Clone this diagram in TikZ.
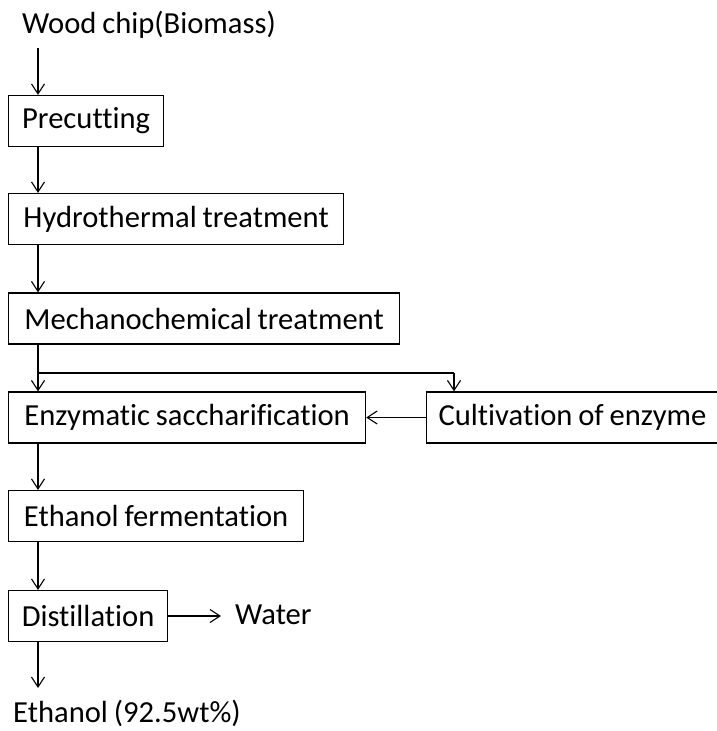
\documentclass[tikz,border=0pt]{standalone}
\usepackage{fontspec}
\setmainfont{Carlito}[Ligatures={NoCommon}, WordSpace=0.85]
\usetikzlibrary{arrows.meta}
\begin{document}
\begin{tikzpicture}[x=1pt,y=-1pt,
  every node/.style={font=\fontsize{30.6}{36}\selectfont, text=black},
  stepbox/.style={draw=black, line width=1.2pt, anchor=west, inner xsep=12pt, inner ysep=0pt, minimum height=51pt},
  plain/.style={anchor=west, inner sep=0pt},
  arr/.style={line width=1.2pt, -{Straight Barb[length=10pt,width=13pt,line width=1.1pt]}},
  thick line/.style={line width=2.2pt}
]
\useasboundingbox (0,0) rectangle (717,731);
\node[plain] (wood) at (22,25) {Wood chip(Biomass)};
\node[stepbox, minimum width=155pt] (pre) at (8,121) {Precutting};
\node[stepbox, minimum width=335pt] (hyd) at (8,219) {Hydrothermal treatment};
\node[stepbox, minimum width=391pt] (mech) at (8,318.5) {Mechanochemical treatment};
\node[stepbox, minimum width=357pt] (enz) at (8,417.5) {Enzymatic saccharification};
\node[stepbox, minimum width=290pt] (cult) at (426,417.5) {Cultivation of enzyme};
\node[stepbox, minimum width=295pt] (eth) at (8,516) {Ethanol fermentation};
\node[stepbox, minimum width=159pt] (dist) at (8,616) {Distillation};
\node[plain] (water) at (235,615) {Water};
\node[plain] (ethout) at (13,713) {Ethanol (92.5wt\%)};

\coordinate (w1) at (38,48);
\coordinate (split) at (38,373);
\coordinate (corner) at (454,373);
\coordinate (wend) at (221,616);
\coordinate (eend) at (38,688);

\draw[arr] (w1) -- ([xshift=30pt]pre.north west);
\draw[arr] ([xshift=30pt]pre.south west) -- ([xshift=30pt]hyd.north west);
\draw[arr] ([xshift=30pt]hyd.south west) -- ([xshift=30pt]mech.north west);
\draw[arr] ([xshift=30pt]mech.south west) -- ([xshift=30pt]enz.north west);
\draw[thick line] (split) -- (corner);
\draw[arr] (corner) -- (corner |- cult.north);
\draw[arr] (cult.west) -- (enz.east);
\draw[arr] ([xshift=30pt]enz.south west) -- ([xshift=30pt]eth.north west);
\draw[arr] ([xshift=30pt]eth.south west) -- ([xshift=30pt]dist.north west);
\draw[arr] (dist.east) -- (wend);
\draw[arr] ([xshift=30pt]dist.south west) -- (eend);
\end{tikzpicture}
\end{document}
